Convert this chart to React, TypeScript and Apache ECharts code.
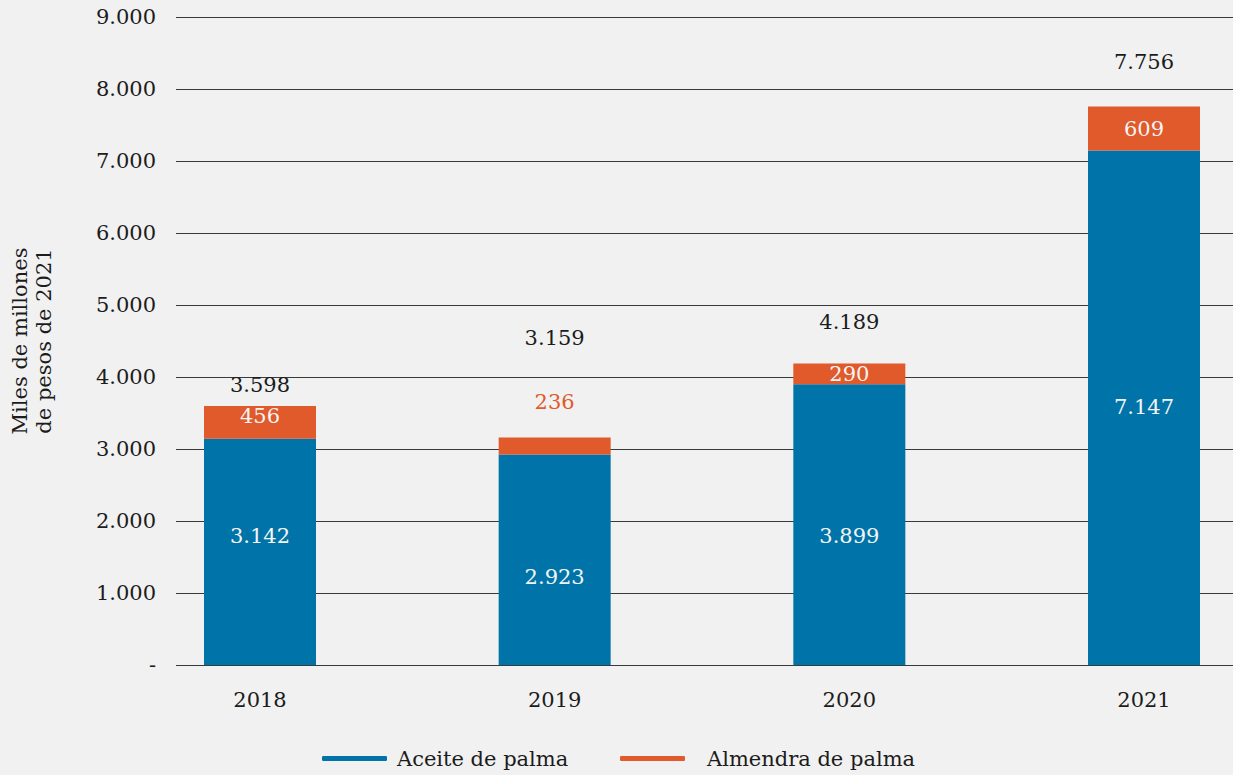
import React, { useEffect, useRef } from "react";
import * as echarts from "echarts";

const categories = ["2018", "2019", "2020", "2021"];
const aceite = [3142, 2923, 3899, 7147];
const almendra = [456, 236, 290, 609];
const yTicks = [0, 1000, 2000, 3000, 4000, 5000, 6000, 7000, 8000, 9000];

const BLUE = "#0074a9";
const ORANGE = "#e05a2b";
const TEXT = "#1c1c1c";
const FONT = "DejaVu Serif";

const fmt = (v: number) =>
  v === 0 ? "-" : String(Math.round(v)).replace(/\B(?=(\d{3})+(?!\d))/g, ".");

export default function App() {
  const ref = useRef<HTMLDivElement>(null);
  useEffect(() => {
    if (!ref.current) return;
    const chart = echarts.init(ref.current, undefined, { renderer: "svg" });
    const totals = aceite.map((v, i) => v + almendra[i]);
    const blueOffsets = [-16, 17, 11, -1];
    const totalOffsets = [-21, -100, -41, -45];
    const yMax = yTicks[yTicks.length - 1];

    const legendCommon = {
      bottom: 6,
      padding: 0,
      icon: "roundRect",
      itemWidth: 65,
      itemHeight: 5,
    };

    chart.setOption({
      animation: false,
      backgroundColor: "#f1f1f1",
      textStyle: { fontFamily: FONT, color: TEXT },
      legend: [
        {
          ...legendCommon,
          left: 322,
          data: ["Aceite de palma"],
          textStyle: { fontFamily: FONT, fontSize: 21, color: TEXT, padding: [0, 0, 0, 5] },
        },
        {
          ...legendCommon,
          left: 620,
          data: ["Almendra de palma"],
          textStyle: { fontFamily: FONT, fontSize: 21, color: TEXT, padding: [0, 0, 0, 17] },
        },
      ],
      grid: [
        { left: 175, right: 0, top: 17, bottom: 110 },
        { left: 260, right: 89, top: 17, bottom: 110 },
      ],
      xAxis: [
        { type: "category", gridIndex: 0, data: categories, show: false },
        {
          type: "category",
          gridIndex: 1,
          data: categories,
          boundaryGap: false,
          axisLine: { show: false },
          axisTick: { show: false },
          axisLabel: { fontFamily: FONT, fontSize: 21, color: TEXT, margin: 24 },
        },
      ],
      yAxis: [
        {
          type: "value",
          gridIndex: 0,
          min: 0,
          max: yMax,
          interval: 1000,
          name: "Miles de millones\nde pesos de 2021",
          nameLocation: "middle",
          nameGap: 120,
          nameTextStyle: { fontFamily: FONT, fontSize: 21, color: TEXT, lineHeight: 24 },
          axisLine: { show: false },
          axisTick: { show: false },
          axisLabel: {
            fontFamily: FONT,
            fontSize: 21,
            color: TEXT,
            margin: 20,
            formatter: (v: number) => fmt(v),
          },
          splitLine: { show: true, lineStyle: { color: "#3a3a3a", width: 1 } },
        },
        {
          type: "value",
          gridIndex: 1,
          min: 0,
          max: yMax,
          interval: 1000,
          show: false,
          splitLine: { show: false },
        },
      ],
      series: [
        {
          name: "Aceite de palma",
          type: "bar",
          xAxisIndex: 1,
          yAxisIndex: 1,
          stack: "total",
          barWidth: 112,
          clip: false,
          itemStyle: { color: BLUE },
          data: aceite.map((v, i) => ({
            value: v,
            label: { offset: [0, blueOffsets[i]] },
          })),
          label: {
            show: true,
            position: "inside",
            fontFamily: FONT,
            fontSize: 21,
            color: "#f4f4f4",
            formatter: (p: any) => fmt(p.value),
          },
        },
        {
          name: "Almendra de palma",
          type: "bar",
          xAxisIndex: 1,
          yAxisIndex: 1,
          stack: "total",
          barWidth: 112,
          clip: false,
          itemStyle: { color: ORANGE },
          data: almendra.map((v, i) =>
            i === 1
              ? {
                  value: v,
                  label: { position: "top", distance: 25, color: ORANGE },
                }
              : { value: v, label: { offset: [0, i === 0 ? -6 : i === 3 ? 1 : 0] } }
          ),
          label: {
            show: true,
            position: "inside",
            fontFamily: FONT,
            fontSize: 21,
            color: "#f4f4f4",
            formatter: (p: any) => fmt(p.value),
          },
        },
        {
          name: "Total",
          type: "scatter",
          xAxisIndex: 1,
          yAxisIndex: 1,
          symbolSize: 1,
          clip: false,
          itemStyle: { color: "rgba(0,0,0,0)", opacity: 1 },
          silent: true,
          data: totals.map((v, i) => ({
            value: v,
            label: { offset: [0, totalOffsets[i]] },
          })),
          label: {
            show: true,
            position: "inside",
            fontFamily: FONT,
            fontSize: 21,
            color: TEXT,
            formatter: (p: any) => fmt(p.value),
          },
        },
      ],
    });
    return () => chart.dispose();
  }, []);

  return (
    <div
      ref={ref}
      style={{ position: "fixed", left: 0, top: 0, width: 1233, height: 775 }}
    />
  );
}
